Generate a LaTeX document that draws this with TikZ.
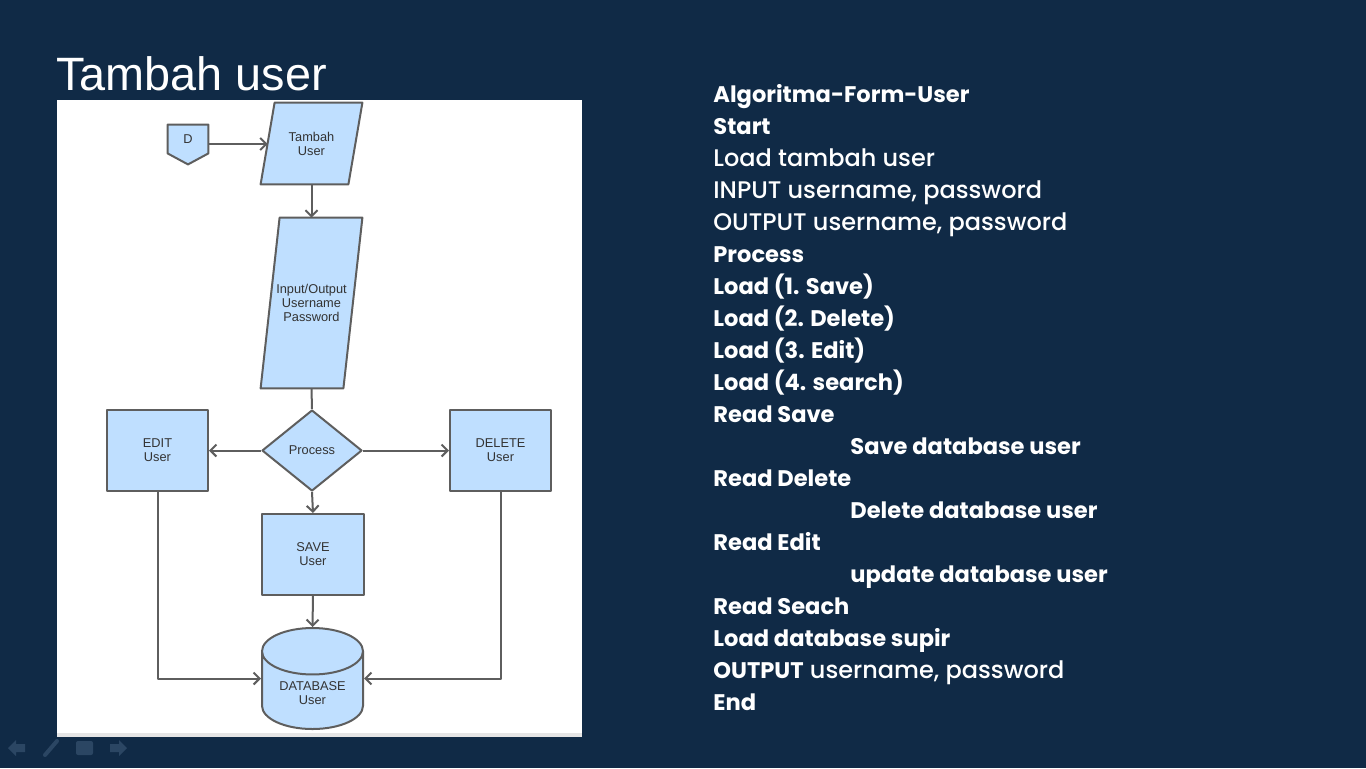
\documentclass[tikz,border=0pt]{standalone}
\usepackage{fontspec}
\usetikzlibrary{arrows.meta, positioning, shapes.geometric, calc, backgrounds}
\newfontfamily\titlefont{Liberation Sans}
\newfontfamily\listfont{Poppins}[UprightFont={* Medium}, BoldFont={* Bold}, BoldFeatures={Scale=0.94}]
\definecolor{slideBg}{HTML}{102A46}
\definecolor{boxBlue}{HTML}{BFDFFF}
\definecolor{lineGray}{HTML}{5E5E5E}
\definecolor{textGray}{HTML}{333333}
\definecolor{navIcon}{HTML}{2B4663}
\tikzset{
  flowline/.style={draw=lineGray, line width=1pt, line join=round},
  flowarrow/.style={flowline, -{Straight Barb[length=3pt, width=6pt]}},
  boxtext/.style={font=\titlefont\fontsize{6.4}{7}\selectfont, text=textGray, align=center, inner sep=0pt},
  iotext/.style={boxtext, rectangle, minimum height=40.5pt},
  procbox/.style={boxtext, flowline, fill=boxBlue, rectangle, minimum width=50.5pt, minimum height=40.5pt},
  decbox/.style={boxtext, flowline, fill=boxBlue, diamond, minimum width=50pt, minimum height=40.5pt},
  dbbox/.style={boxtext, flowline, fill=boxBlue, cylinder, shape border rotate=90, aspect=0.7, minimum width=50.5pt, minimum height=50.5pt},
  listline/.style={font=\listfont\fontsize{12}{14}\selectfont, text=white, anchor=base west, inner sep=0pt}
}
\begin{document}
\begin{tikzpicture}[x=0.5pt, y=-0.5pt]
  \begin{scope}[on background layer]
    \fill[slideBg] (0,0) rectangle (1366,768);
    \fill[white] (57,100) rectangle (582,737);
    \fill[black!10] (57,733) rectangle (582,737);
  \end{scope}
  \useasboundingbox (0,0) rectangle (1366,768);
  % title
  \node[font=\titlefont\fontsize{23.4}{27}\selectfont, text=white, anchor=base west, inner sep=0pt] (title) at (56,90) {Tambah user};
  % flowchart nodes
  \node[boxtext, minimum width=20pt, minimum height=14pt] (d) at (188,139) {D};
  \node[iotext, minimum width=43.5pt] (tambah) at (311.5,143.5) {Tambah\\User};
  \node[iotext, minimum width=41pt, minimum height=85pt] (input) at (311.5,303) {Input/Output\\Username\\Password};
  \node[decbox] (proc) at (312,450.5) {Process};
  \node[procbox] (edit) at (157.5,450.5) {EDIT\\User};
  \node[procbox] (delete) at (500.5,450.5) {DELETE\\User};
  \node[procbox, minimum width=51pt] (save) at (313,554.5) {SAVE\\User};
  \node[dbbox, anchor=shape center] (db) at (312.5,678.5) {\\DATABASE\\User};
  % off-page connector and parallelograms
  \begin{scope}[on background layer]
    \draw[flowline, fill=boxBlue] (d.north west) -- (d.north east) -- (d.south east) -- ($(d.south)+(0,11)$) -- (d.south west) -- cycle;
    \draw[flowline, fill=boxBlue] ($(tambah.north west)+(7,0)$) -- ($(tambah.north east)+(7,0)$) -- ($(tambah.south east)+(-7,0)$) -- ($(tambah.south west)+(-7,0)$) -- cycle;
    \draw[flowline, fill=boxBlue] ($(input.north west)+(9.5,0)$) -- ($(input.north east)+(9.5,0)$) -- ($(input.south east)+(-9.5,0)$) -- ($(input.south west)+(-9.5,0)$) -- cycle;
  \end{scope}
  % connectors
  \draw[flowarrow] ($(d.east)+(0,5)$) -- ($(tambah.west)+(0,0.5)$);
  \draw[flowarrow] (tambah.south) -- (input.north);
  \draw[flowline] (input.south) -- (proc.north);
  \draw[flowarrow] (proc.west) -- (edit.east);
  \draw[flowarrow] (proc.east) -- (delete.west);
  \draw[flowarrow] (proc.south) -- (save.north);
  \draw[flowarrow] (save.south) -- (db.north);
  \draw[flowarrow] (edit.south) |- (db.shape center -| db.west);
  \draw[flowarrow] (delete.south) |- (db.shape center -| db.east);
  % algorithm text
  \foreach \xx/\txt [count=\i] in {
      713/{\bfseries Algoritma-Form-User},
      713/{\bfseries Start},
      713/{Load tambah user},
      713/{INPUT username, password},
      713/{OUTPUT username, password},
      713/{\bfseries Process},
      713/{\bfseries Load (1. Save)},
      713/{\bfseries Load (2. Delete)},
      713/{\bfseries Load (3. Edit)},
      713/{\bfseries Load (4. search)},
      713/{\bfseries Read Save},
      850/{\bfseries Save database user},
      713/{\bfseries Read Delete},
      850/{\bfseries Delete database user},
      713/{\bfseries Read Edit},
      850/{\bfseries update database user},
      713/{\bfseries Read Seach},
      713/{\bfseries Load database supir},
      713/{{\bfseries OUTPUT} username, password},
      713/{\bfseries End}}
    \node[listline] (line\i) at (\xx, {102.5+32*(\i-1)}) {\txt};
  % slide navigation icons
  \fill[navIcon] (8,748) -- (16,740) -- (16,744) -- (25,744) -- (25,752) -- (16,752) -- (16,756) -- cycle;
  \draw[navIcon, line width=2pt, line cap=round] (45,755) -- (57,741);
  \fill[navIcon, rounded corners=1pt] (76,741) rectangle (93,755);
  \fill[navIcon] (127,748) -- (119,740) -- (119,744) -- (110,744) -- (110,752) -- (119,752) -- (119,756) -- cycle;
\end{tikzpicture}
\end{document}
